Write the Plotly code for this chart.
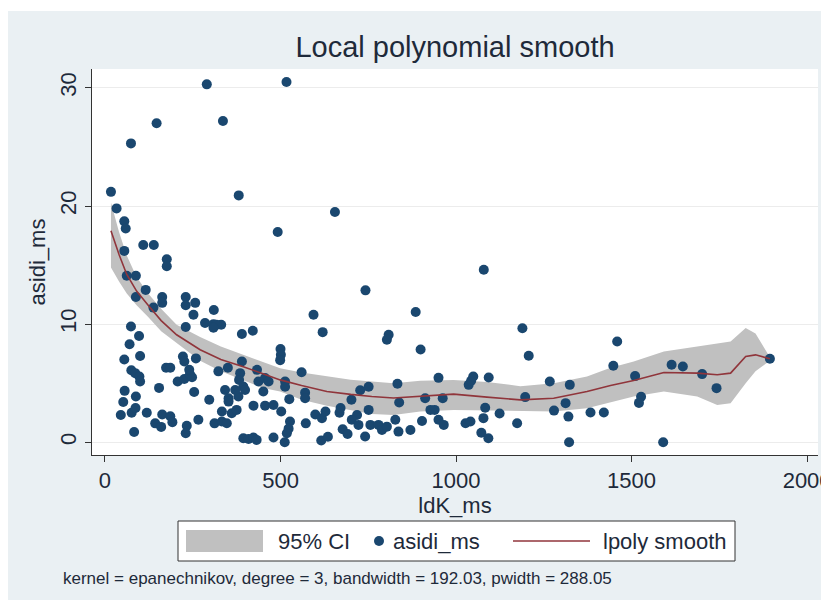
import plotly.graph_objects as go

# ---- data ----
ldk_ms = [17, 33, 55, 59, 55, 109, 139, 176, 176, 74, 147, 290, 336, 381, 517, 492, 655,
          62, 88, 88, 116, 138, 163, 163, 230, 230, 257, 252, 310, 230, 285, 309, 331, 318, 309,
          74, 97, 70, 55, 100, 75, 86, 98, 100, 56, 52, 88, 45, 76, 87, 119, 83, 154, 174, 186,
          143, 160, 163, 186, 192,
          207, 226, 242, 248, 240, 222, 226, 259, 254, 233, 230, 266, 297, 312,
          323, 350, 390, 385, 382, 394, 399, 380, 371, 342, 352, 352, 390, 421,
          333, 361, 375, 333, 347,
          433, 437, 456, 466, 451, 423, 456, 480, 502, 394, 409, 423, 432, 480, 500, 501, 499,
          513, 513, 512, 525, 527, 523, 518, 560, 570, 570, 572, 594, 620, 599, 618, 628, 616, 635,
          668, 671, 677, 691, 702, 727, 751, 718, 703, 722, 751, 741, 756, 779, 789, 803, 827,
          836, 870, 833, 838, 742, 885, 808, 803, 899, 903, 912, 927, 939, 950, 962, 950, 965,
          1027, 1041, 1036, 1043, 1049,
          1079, 1093, 1083, 1078, 1072, 1092, 1124, 1174, 1189, 1207, 1197, 1267, 1279, 1324,
          1312, 1320, 1322, 1383, 1421, 1448, 1459, 1510, 1527, 1521, 1590, 1614, 1646, 1701,
          1742, 1894]
asidi_ms = [21.2, 19.8, 18.7, 18.1, 16.2, 16.7, 16.7, 15.5, 14.9, 25.3, 27.0, 30.3, 27.2, 20.9, 30.5, 17.8, 19.5,
            14.1, 14.1, 12.3, 12.9, 11.4, 12.3, 11.8, 12.3, 11.6, 11.8, 10.8, 11.2, 9.75, 10.1, 10.0, 9.95, 9.95, 9.7,
            9.8, 9.0, 8.3, 7.0, 7.3, 6.1, 5.85, 5.56, 5.14, 4.35, 3.4, 3.87, 2.3, 2.5, 2.9, 2.5, 0.87, 4.6, 6.3, 6.3,
            1.6, 1.3, 2.35, 2.2, 1.7,
            5.14, 5.35, 5.75, 5.5, 6.13, 7.26, 6.84, 7.1, 4.25, 1.4, 0.76, 1.9, 3.6, 1.6,
            6.0, 6.3, 6.84, 5.85, 5.28, 4.72, 4.43, 3.87, 4.43, 4.43, 3.73, 3.44, 9.16, 9.44,
            2.6, 2.45, 2.74, 1.75, 1.61,
            6.13, 5.14, 5.43, 5.14, 4.29, 3.1, 3.1, 3.16, 2.6, 0.34, 0.28, 0.4, 0.2, 0.4, 7.9, 7.4, 6.95,
            5.14, 4.7, 0.0, 3.65, 1.75, 1.15, 0.76, 5.92, 4.2, 3.73, 1.6, 10.8, 9.32, 2.35, 2.03, 2.6, 0.15, 0.47,
            2.5, 2.9, 1.1, 0.7, 3.6, 4.4, 4.7, 2.3, 1.9, 1.47, 2.74, 0.48, 1.47, 1.47, 1.04, 1.32, 1.9,
            0.9, 1.04, 4.95, 3.36, 12.86, 11.03, 9.1, 8.68, 7.85, 1.8, 3.73, 2.74, 2.74, 5.45, 3.73, 1.9, 1.47,
            1.61, 1.75, 4.86, 5.2, 5.56,
            14.6, 5.48, 2.92, 2.04, 0.81, 0.34, 2.43, 1.61, 9.65, 7.32, 3.82, 5.14, 2.68, 4.86,
            3.31, 2.17, 0.0, 2.52, 2.52, 6.47, 8.53, 5.6, 3.85, 3.33, 0.0, 6.56, 6.41, 5.77,
            4.58, 7.07]

grid_x = [17, 40, 62, 90, 123, 160, 204, 271, 330, 394, 450, 499, 560, 632, 700, 760, 822,
          898, 993, 1088, 1183, 1278, 1373, 1440, 1506, 1592, 1687, 1744, 1782, 1825, 1853, 1894]
smooth_y = [17.9, 15.9, 14.2, 12.8, 11.6, 10.3, 9.1, 7.83, 7.0, 6.4, 5.8, 5.28, 4.8, 4.3, 4.05, 3.87, 3.75,
            3.87, 4.07, 3.82, 3.59, 3.73, 4.29, 4.8, 5.22, 5.9, 5.85, 5.71, 5.85, 7.26, 7.4, 7.07]
ci_upper = [20.3, 17.8, 15.8, 14.0, 12.6, 11.3, 9.95, 8.9, 8.1, 7.4, 6.8, 6.27, 5.9, 5.56, 5.3, 5.14, 5.0,
            5.2, 5.28, 5.1, 4.75, 5.0, 5.56, 6.3, 6.84, 7.69, 8.11, 8.3, 8.53, 9.67, 9.2, 7.2]
ci_lower = [14.8, 13.6, 12.6, 11.6, 10.6, 9.4, 8.4, 6.9, 6.0, 5.28, 4.6, 4.3, 3.6, 3.1, 2.7, 2.4, 2.3,
            2.6, 2.74, 2.7, 2.65, 2.6, 2.88, 3.4, 3.87, 4.29, 3.87, 3.16, 3.3, 5.0, 6.0, 6.9]

x_ticks = [0, 500, 1000, 1500, 2000]
y_ticks = [0, 10, 20, 30]
legend_labels = ["95% CI", "asidi_ms", "lpoly smooth"]
footnote = "kernel = epanechnikov, degree = 3, bandwidth = 192.03, pwidth = 288.05"

NAVY = "#1a476f"
MAROON = "#90353b"
CI_GRAY = "#c0c0c0"
PANEL = "#eaf0f3"
TEXT = "#1e2a3a"
AXIS = "#333333"
FONT = "Liberation Sans, Arial, sans-serif"

fig = go.Figure()
fig.add_trace(go.Scatter(
    x=grid_x + grid_x[::-1], y=ci_upper + ci_lower[::-1],
    fill="toself", fillcolor=CI_GRAY, mode="lines", line=dict(width=0, color=CI_GRAY),
    name=legend_labels[0], hoverinfo="skip", showlegend=False))
fig.add_trace(go.Scatter(
    x=ldk_ms, y=asidi_ms, mode="markers",
    marker=dict(color=NAVY, size=10, line=dict(width=0)), name=legend_labels[1], showlegend=False))
fig.add_trace(go.Scatter(
    x=grid_x, y=smooth_y, mode="lines",
    line=dict(color=MAROON, width=1.6), name=legend_labels[2], showlegend=False))

# page has an 8 px body margin, so the figure is 821x601 and sits at (8, 8) of the window.
# plot area in window pixels: x 92..818, y 69..455
W_PLOT, H_PLOT, L, B_PX = 726, 386, 92, 455
def px(xp):
    return (xp - L) / W_PLOT
def py(yp):
    return (B_PX - yp) / H_PLOT

leg_y = py(541)
shapes = [
    dict(type="rect", xref="paper", yref="paper", x0=px(7), x1=px(824), y0=py(600), y1=py(11),
         fillcolor=PANEL, line=dict(width=0), layer="below"),
    dict(type="rect", xref="paper", yref="paper", x0=0, x1=1, y0=0, y1=1,
         fillcolor="white", line=dict(width=0), layer="below"),
    # legend box
    dict(type="rect", xref="paper", yref="paper", x0=px(178), x1=px(735), y0=py(561), y1=py(521),
         fillcolor="white", line=dict(color=AXIS, width=1)),
    dict(type="rect", xref="paper", yref="paper", x0=px(186), x1=px(263), y0=py(552), y1=py(530),
         fillcolor=CI_GRAY, line=dict(width=0)),
    dict(type="circle", xref="paper", yref="paper", x0=px(374), x1=px(384), y0=py(546), y1=py(536),
         fillcolor=NAVY, line=dict(width=0)),
    dict(type="line", xref="paper", yref="paper", x0=px(513), x1=px(590), y0=leg_y, y1=leg_y,
         line=dict(color=MAROON, width=1.6)),
]

annotations = [
    dict(text=legend_labels[0], xref="paper", yref="paper", x=px(276), y=leg_y,
         xanchor="left", yanchor="middle", showarrow=False, font=dict(size=22, color=TEXT)),
    dict(text=legend_labels[1], xref="paper", yref="paper", x=px(391), y=leg_y,
         xanchor="left", yanchor="middle", showarrow=False, font=dict(size=22, color=TEXT)),
    dict(text=legend_labels[2], xref="paper", yref="paper", x=px(601), y=leg_y,
         xanchor="left", yanchor="middle", showarrow=False, font=dict(size=22, color=TEXT)),
    dict(text=footnote, xref="paper", yref="paper", x=px(61), y=py(578),
         xanchor="left", yanchor="middle", showarrow=False, font=dict(size=17, color=TEXT)),
]

fig.update_layout(
    width=821, height=601,
    margin=dict(l=84, r=11, t=61, b=154),
    paper_bgcolor="white", plot_bgcolor="white",
    font=dict(family=FONT, color=TEXT),
    showlegend=False,
    title=dict(text="Local polynomial smooth", x=0.5, xref="paper", xanchor="center",
               y=1 - 39 / 601, yref="container", yanchor="middle",
               font=dict(size=29, color=TEXT)),
    shapes=shapes,
    annotations=annotations,
    xaxis=dict(range=[-37, 2031], tickvals=x_ticks, showgrid=False, zeroline=False,
               automargin=False, ticklabeloverflow="allow",
               showline=True, linecolor=AXIS, linewidth=1,
               ticks="outside", ticklen=6, tickcolor=AXIS,
               tickfont=dict(size=22, color=TEXT),
               title=dict(text="ldK_ms", font=dict(size=22, color=TEXT), standoff=0)),
    yaxis=dict(range=[-1.08, 31.6], tickvals=y_ticks, showgrid=True, gridcolor="#ececec",
               gridwidth=1, zeroline=False, tickangle=-90, automargin=False,
               ticklabeloverflow="allow",
               showline=True, linecolor=AXIS, linewidth=1,
               ticks="outside", ticklen=6, tickcolor=AXIS,
               tickfont=dict(size=22, color=TEXT),
               title=dict(text="asidi_ms", font=dict(size=22, color=TEXT), standoff=4)),
)

fig.write_html("out.html")
